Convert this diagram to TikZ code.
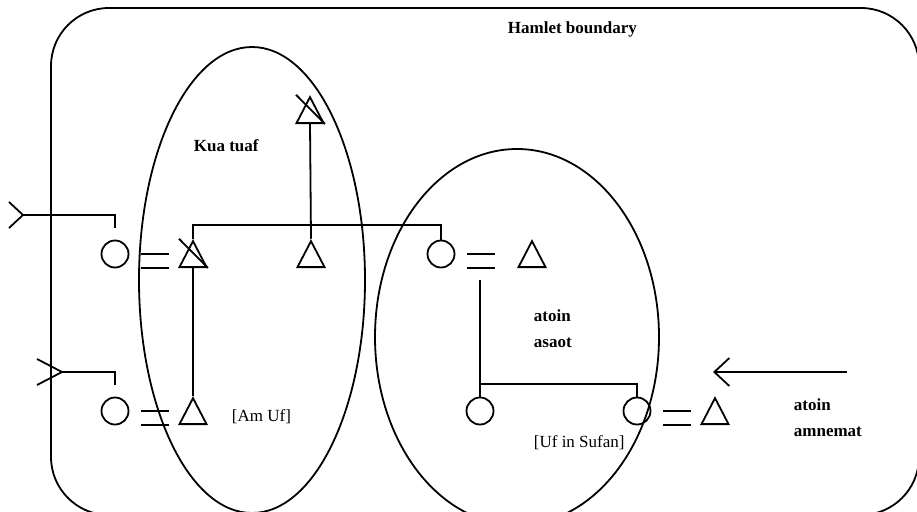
\documentclass[tikz,border=0pt]{standalone}
\usepackage{fontspec}
\setmainfont{Liberation Serif}
\usetikzlibrary{arrows.meta,positioning,calc,shapes.geometric}

\newcommand\wed[2]{\draw ($(#1.east)+(12,0)$) -- ++(28,0); \draw ($(#1.east |- #2.lower side)+(12,0)$) -- ++(28,0);}

\begin{document}
\begin{tikzpicture}[x=1pt, y=-1pt, line width=1.8pt, every node/.style={font=\fontsize{17}{26}\selectfont}, >={Straight Barb[length=15pt,width=28pt]}]
\tikzstyle{fem}=[draw, circle, minimum size=27pt, inner sep=0pt]
\tikzstyle{male}=[draw, isosceles triangle, shape border rotate=90, isosceles triangle stretches, minimum width=27pt, minimum height=26pt, inner sep=0pt, anchor=lower side]
\tikzstyle{lbl}=[inner sep=0pt, anchor=base west, align=left]
\tikzstyle{lblb}=[lbl, font=\fontsize{17}{26}\selectfont\bfseries]
\useasboundingbox (0,0) rectangle (917,511);
\clip (0,0) rectangle (917,511);
\draw[rounded corners=58pt] (51,8) rectangle (919,515);
\draw (252,280) ellipse [x radius=113pt, y radius=233pt];
\draw (517,337) ellipse [x radius=142pt, y radius=188pt];
\node[lblb] (hb) at (507,34) {Hamlet boundary};
\node[lblb] (kt) at (193,151) {Kua tuaf};
\node[lblb] (aa) at (533,347) {atoin\\asaot};
\node[lblb] (am) at (793,436) {atoin\\amnemat};
\node[lbl] (au) at (231,421) {[Am Uf]};
\node[lbl] (us) at (533,447) {[Uf in Sufan]};
\node[fem] (c1) at (115,254) {};
\node[male] (t1) at (193,268) {};
\node[male] (t4) at (310,124) {};
\node[male] (t3) at (311,268) {};
\node[fem] (c2) at (441,254) {};
\node[male] (t5) at (532,268) {};
\node[fem] (c3) at (115,411) {};
\node[male] (t2) at (193,425) {};
\node[fem] (c4) at (480,411) {};
\node[fem] (c5) at (637,411) {};
\node[male] (t6) at (715,425) {};
\draw ($(t1.apex)+(-14,0)$) -- (t1.right corner);
\draw ($(t4.apex)+(-14,0)$) -- (t4.right corner);
\wed{c1}{t1}
\wed{c2}{t5}
\wed{c3}{t2}
\wed{c5}{t6}
\draw (t1.apex) -- ++(0,-14) -| (c2.north);
\draw (t3.apex) -- (t4.lower side);
\draw (t1.lower side) -- (t2.apex);
\coordinate (d1) at (480,280);
\draw (d1) -- (c4.north);
\draw (c4.north) ++(0,-13) -| (c5.north);
\coordinate (in1) at (23,215);
\draw (in1) ++(-14,-13) -- (in1) -- ++(-14,13);
\draw (in1) -| ($(c1.north)+(0,-12)$);
\coordinate (in2) at (62,372);
\draw (in2) ++(-25,-13) -- (in2) -- ++(-25,13);
\draw (in2) -| ($(c3.north)+(0,-12)$);
\coordinate (in3) at (847,372);
\coordinate (in3e) at (713,372);
\draw[->] (in3) -- (in3e);
\end{tikzpicture}
\end{document}
